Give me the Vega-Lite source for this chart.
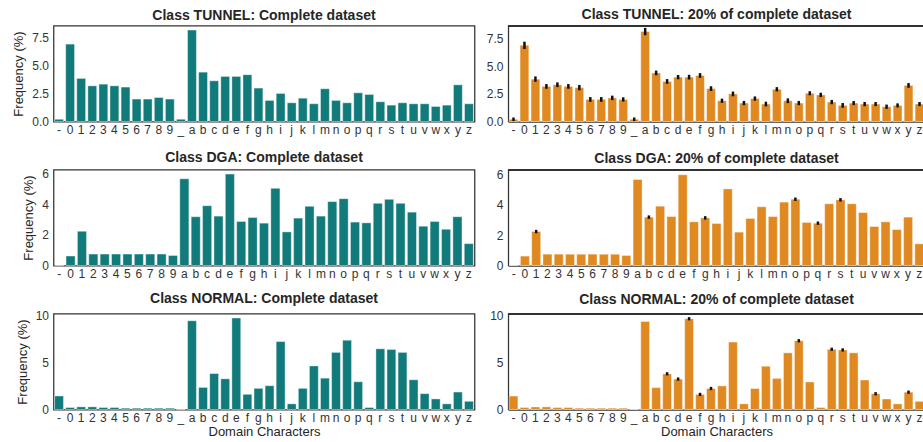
{
  "$schema": "https://vega.github.io/schema/vega-lite/v6.json",
  "autosize": {"type": "pad"},
  "padding": {"left": 11.5, "top": 7.5, "right": 0, "bottom": 0},
  "background": "white",
  "data": {"values": [
    {"c":"TUNNEL","ch":"-","v":0.2,"lo":0.15,"hi":0.25},
    {"c":"TUNNEL","ch":"0","v":6.9,"lo":6.68,"hi":7.12},
    {"c":"TUNNEL","ch":"1","v":3.84,"lo":3.71,"hi":3.97},
    {"c":"TUNNEL","ch":"2","v":3.18,"lo":3.08,"hi":3.28},
    {"c":"TUNNEL","ch":"3","v":3.33,"lo":3.23,"hi":3.43},
    {"c":"TUNNEL","ch":"4","v":3.18,"lo":3.08,"hi":3.28},
    {"c":"TUNNEL","ch":"5","v":3.07,"lo":2.94,"hi":3.2},
    {"c":"TUNNEL","ch":"6","v":2.0,"lo":1.9,"hi":2.1},
    {"c":"TUNNEL","ch":"7","v":2.0,"lo":1.9,"hi":2.1},
    {"c":"TUNNEL","ch":"8","v":2.14,"lo":2.05,"hi":2.23},
    {"c":"TUNNEL","ch":"9","v":2.0,"lo":1.92,"hi":2.08},
    {"c":"TUNNEL","ch":"_","v":0.2,"lo":0.15,"hi":0.25},
    {"c":"TUNNEL","ch":"a","v":8.15,"lo":7.93,"hi":8.37},
    {"c":"TUNNEL","ch":"b","v":4.4,"lo":4.3,"hi":4.5},
    {"c":"TUNNEL","ch":"c","v":3.63,"lo":3.53,"hi":3.73},
    {"c":"TUNNEL","ch":"d","v":4.02,"lo":3.94,"hi":4.1},
    {"c":"TUNNEL","ch":"e","v":4.02,"lo":3.92,"hi":4.12},
    {"c":"TUNNEL","ch":"f","v":4.17,"lo":4.07,"hi":4.27},
    {"c":"TUNNEL","ch":"g","v":2.98,"lo":2.88,"hi":3.08},
    {"c":"TUNNEL","ch":"h","v":1.88,"lo":1.8,"hi":1.96},
    {"c":"TUNNEL","ch":"i","v":2.5,"lo":2.4,"hi":2.6},
    {"c":"TUNNEL","ch":"j","v":1.67,"lo":1.59,"hi":1.75},
    {"c":"TUNNEL","ch":"k","v":2.08,"lo":2.0,"hi":2.16},
    {"c":"TUNNEL","ch":"l","v":1.58,"lo":1.48,"hi":1.68},
    {"c":"TUNNEL","ch":"m","v":2.92,"lo":2.84,"hi":3.0},
    {"c":"TUNNEL","ch":"n","v":1.88,"lo":1.78,"hi":1.98},
    {"c":"TUNNEL","ch":"o","v":1.67,"lo":1.59,"hi":1.75},
    {"c":"TUNNEL","ch":"p","v":2.56,"lo":2.49,"hi":2.63},
    {"c":"TUNNEL","ch":"q","v":2.41,"lo":2.33,"hi":2.49},
    {"c":"TUNNEL","ch":"r","v":1.76,"lo":1.68,"hi":1.84},
    {"c":"TUNNEL","ch":"s","v":1.46,"lo":1.36,"hi":1.56},
    {"c":"TUNNEL","ch":"t","v":1.67,"lo":1.6,"hi":1.74},
    {"c":"TUNNEL","ch":"u","v":1.58,"lo":1.5,"hi":1.66},
    {"c":"TUNNEL","ch":"v","v":1.58,"lo":1.51,"hi":1.65},
    {"c":"TUNNEL","ch":"w","v":1.34,"lo":1.26,"hi":1.42},
    {"c":"TUNNEL","ch":"x","v":1.46,"lo":1.39,"hi":1.53},
    {"c":"TUNNEL","ch":"y","v":3.27,"lo":3.17,"hi":3.37},
    {"c":"TUNNEL","ch":"z","v":1.58,"lo":1.51,"hi":1.65},
    {"c":"DGA","ch":"-","v":0},
    {"c":"DGA","ch":"0","v":0.62},
    {"c":"DGA","ch":"1","v":2.24,"lo":2.21,"hi":2.27},
    {"c":"DGA","ch":"2","v":0.75},
    {"c":"DGA","ch":"3","v":0.75},
    {"c":"DGA","ch":"4","v":0.75},
    {"c":"DGA","ch":"5","v":0.75},
    {"c":"DGA","ch":"6","v":0.75},
    {"c":"DGA","ch":"7","v":0.75},
    {"c":"DGA","ch":"8","v":0.75},
    {"c":"DGA","ch":"9","v":0.66},
    {"c":"DGA","ch":"a","v":5.67},
    {"c":"DGA","ch":"b","v":3.19,"lo":3.16,"hi":3.22},
    {"c":"DGA","ch":"c","v":3.91},
    {"c":"DGA","ch":"d","v":3.23},
    {"c":"DGA","ch":"e","v":5.98},
    {"c":"DGA","ch":"f","v":2.88},
    {"c":"DGA","ch":"g","v":3.14,"lo":3.11,"hi":3.17},
    {"c":"DGA","ch":"h","v":2.77},
    {"c":"DGA","ch":"i","v":5.05},
    {"c":"DGA","ch":"j","v":2.2},
    {"c":"DGA","ch":"k","v":3.1},
    {"c":"DGA","ch":"l","v":3.87},
    {"c":"DGA","ch":"m","v":3.23},
    {"c":"DGA","ch":"n","v":4.18},
    {"c":"DGA","ch":"o","v":4.37,"lo":4.34,"hi":4.4},
    {"c":"DGA","ch":"p","v":2.84},
    {"c":"DGA","ch":"q","v":2.79,"lo":2.76,"hi":2.82},
    {"c":"DGA","ch":"r","v":4.07},
    {"c":"DGA","ch":"s","v":4.33,"lo":4.3,"hi":4.36},
    {"c":"DGA","ch":"t","v":4.07},
    {"c":"DGA","ch":"u","v":3.49},
    {"c":"DGA","ch":"v","v":2.57},
    {"c":"DGA","ch":"w","v":2.88},
    {"c":"DGA","ch":"x","v":2.37},
    {"c":"DGA","ch":"y","v":3.19},
    {"c":"DGA","ch":"z","v":1.43},
    {"c":"NORMAL","ch":"-","v":1.43},
    {"c":"NORMAL","ch":"0","v":0.21},
    {"c":"NORMAL","ch":"1","v":0.28},
    {"c":"NORMAL","ch":"2","v":0.28},
    {"c":"NORMAL","ch":"3","v":0.21},
    {"c":"NORMAL","ch":"4","v":0.21},
    {"c":"NORMAL","ch":"5","v":0.14},
    {"c":"NORMAL","ch":"6","v":0.14},
    {"c":"NORMAL","ch":"7","v":0.14},
    {"c":"NORMAL","ch":"8","v":0.14},
    {"c":"NORMAL","ch":"9","v":0.14},
    {"c":"NORMAL","ch":"_","v":0},
    {"c":"NORMAL","ch":"a","v":9.4},
    {"c":"NORMAL","ch":"b","v":2.34},
    {"c":"NORMAL","ch":"c","v":3.81,"lo":3.77,"hi":3.85},
    {"c":"NORMAL","ch":"d","v":3.25,"lo":3.21,"hi":3.29},
    {"c":"NORMAL","ch":"e","v":9.69,"lo":9.65,"hi":9.73},
    {"c":"NORMAL","ch":"f","v":1.61,"lo":1.57,"hi":1.65},
    {"c":"NORMAL","ch":"g","v":2.24,"lo":2.2,"hi":2.28},
    {"c":"NORMAL","ch":"h","v":2.52},
    {"c":"NORMAL","ch":"i","v":7.2},
    {"c":"NORMAL","ch":"j","v":0.6},
    {"c":"NORMAL","ch":"k","v":2.24},
    {"c":"NORMAL","ch":"l","v":4.62},
    {"c":"NORMAL","ch":"m","v":3.32},
    {"c":"NORMAL","ch":"n","v":6.05},
    {"c":"NORMAL","ch":"o","v":7.34,"lo":7.3,"hi":7.38},
    {"c":"NORMAL","ch":"p","v":2.94},
    {"c":"NORMAL","ch":"q","v":0.21},
    {"c":"NORMAL","ch":"r","v":6.43,"lo":6.39,"hi":6.47},
    {"c":"NORMAL","ch":"s","v":6.36,"lo":6.32,"hi":6.4},
    {"c":"NORMAL","ch":"t","v":6.05},
    {"c":"NORMAL","ch":"u","v":3.15},
    {"c":"NORMAL","ch":"v","v":1.68,"lo":1.64,"hi":1.72},
    {"c":"NORMAL","ch":"w","v":1.12},
    {"c":"NORMAL","ch":"x","v":0.6},
    {"c":"NORMAL","ch":"y","v":1.85,"lo":1.81,"hi":1.89},
    {"c":"NORMAL","ch":"z","v":0.87}
  ]},
  "columns": 2,
  "spacing": {"row": 48, "column": 33.5},
  "bounds": "flush",
  "concat": [
    {
      "width": 421, "height": 96,
      "title": "Class TUNNEL: Complete dataset",
      "transform": [{"filter": "datum.c == 'TUNNEL'"}],
      "mark": {"type": "bar", "color": "#117A7A", "stroke": "white", "strokeWidth": 0.8, "strokeOpacity": 0.5},
      "encoding": {
        "x": {"field": "ch", "type": "nominal", "sort": null, "scale": {"paddingInner": 0.2, "paddingOuter": 0.1}, "axis": {"title": null, "labelAngle": 0}},
        "y": {"field": "v", "type": "quantitative", "scale": {"domain": [0, 8.56], "nice": false}, "axis": {"title": "Frequency (%)", "values": [0, 2.5, 5, 7.5], "format": ".1f"}}
      }
    },
    {
      "width": 417, "height": 96,
      "title": "Class TUNNEL: 20% of complete dataset",
      "view": {"stroke": null},
      "transform": [{"filter": "datum.c == 'TUNNEL'"}],
      "layer": [
        {
          "mark": {"type": "bar", "color": "#DF8920", "stroke": "white", "strokeWidth": 0.8, "strokeOpacity": 0.5},
          "encoding": {
            "x": {"field": "ch", "type": "nominal", "sort": null, "scale": {"paddingInner": 0.2, "paddingOuter": 0.1}, "axis": {"title": null, "labelAngle": 0, "domain": true}},
            "y": {"field": "v", "type": "quantitative", "scale": {"domain": [0, 8.7], "nice": false}, "axis": {"title": null, "values": [0, 2.5, 5, 7.5], "format": ".1f", "domain": true}}
          }
        },
        {
          "transform": [{"filter": "isValid(datum.lo)"}],
          "mark": {"type": "rule", "color": "#111", "strokeWidth": 2.5, "strokeCap": "square"},
          "encoding": {
            "x": {"field": "ch", "type": "nominal", "sort": null, "scale": {"paddingInner": 0.2, "paddingOuter": 0.1}, "axis": {"title": null, "labelAngle": 0, "domain": true}},
            "y": {"field": "lo", "type": "quantitative", "scale": {"domain": [0, 8.7], "nice": false}, "axis": {"title": null, "values": [0, 2.5, 5, 7.5], "format": ".1f", "domain": true}},
            "y2": {"field": "hi"}
          }
        },
        {
          "mark": {"type": "rule", "color": "#333", "strokeWidth": 1.25},
          "encoding": {"y": {"datum": 8.7, "type": "quantitative", "scale": {"domain": [0, 8.7], "nice": false}, "axis": {"title": null, "values": [0, 2.5, 5, 7.5], "format": ".1f", "domain": true}}}
        }
      ]
    },
    {
      "width": 421, "height": 96,
      "title": "Class DGA: Complete dataset",
      "transform": [{"filter": "datum.c == 'DGA'"}],
      "mark": {"type": "bar", "color": "#117A7A", "stroke": "white", "strokeWidth": 0.8, "strokeOpacity": 0.5},
      "encoding": {
        "x": {"field": "ch", "type": "nominal", "sort": null, "scale": {"paddingInner": 0.2, "paddingOuter": 0.1}, "axis": {"title": null, "labelAngle": 0}},
        "y": {"field": "v", "type": "quantitative", "scale": {"domain": [0, 6.28], "nice": false}, "axis": {"title": "Frequency (%)", "values": [0, 2, 4, 6], "format": "d"}}
      }
    },
    {
      "width": 417, "height": 96,
      "title": "Class DGA: 20% of complete dataset",
      "view": {"stroke": null},
      "transform": [{"filter": "datum.c == 'DGA'"}],
      "layer": [
        {
          "mark": {"type": "bar", "color": "#DF8920", "stroke": "white", "strokeWidth": 0.8, "strokeOpacity": 0.5},
          "encoding": {
            "x": {"field": "ch", "type": "nominal", "sort": null, "scale": {"paddingInner": 0.2, "paddingOuter": 0.1}, "axis": {"title": null, "labelAngle": 0, "domain": true}},
            "y": {"field": "v", "type": "quantitative", "scale": {"domain": [0, 6.33], "nice": false}, "axis": {"title": null, "values": [0, 2, 4, 6], "format": "d", "domain": true}}
          }
        },
        {
          "transform": [{"filter": "isValid(datum.lo)"}],
          "mark": {"type": "rule", "color": "#111", "strokeWidth": 2.5, "strokeCap": "square"},
          "encoding": {
            "x": {"field": "ch", "type": "nominal", "sort": null, "scale": {"paddingInner": 0.2, "paddingOuter": 0.1}, "axis": {"title": null, "labelAngle": 0, "domain": true}},
            "y": {"field": "lo", "type": "quantitative", "scale": {"domain": [0, 6.33], "nice": false}, "axis": {"title": null, "values": [0, 2, 4, 6], "format": "d", "domain": true}},
            "y2": {"field": "hi"}
          }
        },
        {
          "mark": {"type": "rule", "color": "#333", "strokeWidth": 1.25},
          "encoding": {"y": {"datum": 6.33, "type": "quantitative", "scale": {"domain": [0, 6.33], "nice": false}, "axis": {"title": null, "values": [0, 2, 4, 6], "format": "d", "domain": true}}}
        }
      ]
    },
    {
      "width": 421, "height": 96,
      "title": "Class NORMAL: Complete dataset",
      "transform": [{"filter": "datum.c == 'NORMAL'"}],
      "mark": {"type": "bar", "color": "#117A7A", "stroke": "white", "strokeWidth": 0.8, "strokeOpacity": 0.5},
      "encoding": {
        "x": {"field": "ch", "type": "nominal", "sort": null, "scale": {"paddingInner": 0.2, "paddingOuter": 0.1}, "axis": {"title": "Domain Characters", "labelAngle": 0}},
        "y": {"field": "v", "type": "quantitative", "scale": {"domain": [0, 10.17], "nice": false}, "axis": {"title": "Frequency (%)", "values": [0, 5, 10], "format": "d"}}
      }
    },
    {
      "width": 417, "height": 96,
      "title": "Class NORMAL: 20% of complete dataset",
      "view": {"stroke": null},
      "transform": [{"filter": "datum.c == 'NORMAL'"}],
      "layer": [
        {
          "mark": {"type": "bar", "color": "#DF8920", "stroke": "white", "strokeWidth": 0.8, "strokeOpacity": 0.5},
          "encoding": {
            "x": {"field": "ch", "type": "nominal", "sort": null, "scale": {"paddingInner": 0.2, "paddingOuter": 0.1}, "axis": {"title": "Domain Characters", "labelAngle": 0, "domain": true}},
            "y": {"field": "v", "type": "quantitative", "scale": {"domain": [0, 10.25], "nice": false}, "axis": {"title": null, "values": [0, 5, 10], "format": "d", "domain": true}}
          }
        },
        {
          "transform": [{"filter": "isValid(datum.lo)"}],
          "mark": {"type": "rule", "color": "#111", "strokeWidth": 2.5, "strokeCap": "square"},
          "encoding": {
            "x": {"field": "ch", "type": "nominal", "sort": null, "scale": {"paddingInner": 0.2, "paddingOuter": 0.1}, "axis": {"title": "Domain Characters", "labelAngle": 0, "domain": true}},
            "y": {"field": "lo", "type": "quantitative", "scale": {"domain": [0, 10.25], "nice": false}, "axis": {"title": null, "values": [0, 5, 10], "format": "d", "domain": true}},
            "y2": {"field": "hi"}
          }
        },
        {
          "mark": {"type": "rule", "color": "#333", "strokeWidth": 1.25},
          "encoding": {"y": {"datum": 10.25, "type": "quantitative", "scale": {"domain": [0, 10.25], "nice": false}, "axis": {"title": null, "values": [0, 5, 10], "format": "d", "domain": true}}}
        }
      ]
    }
  ],
  "config": {
    "font": "Liberation Sans",
    "view": {"stroke": "#333", "strokeWidth": 1.25},
    "axis": {
      "ticks": false, "grid": false, "domain": false,
      "domainColor": "#333", "domainWidth": 1.25,
      "labelFont": "Liberation Sans", "labelFontSize": 12, "labelColor": "#333", "labelPadding": 5,
      "titleFont": "Liberation Sans", "titleFontSize": 13, "titleFontWeight": "normal", "titleColor": "#262626"
    },
    "axisY": {"titlePadding": 6},
    "axisX": {"titlePadding": 2.5, "labelPadding": 2.5},
    "title": {"font": "Liberation Sans", "fontSize": 14, "fontWeight": "bold", "color": "#262626", "offset": 2.7}
  }
}
